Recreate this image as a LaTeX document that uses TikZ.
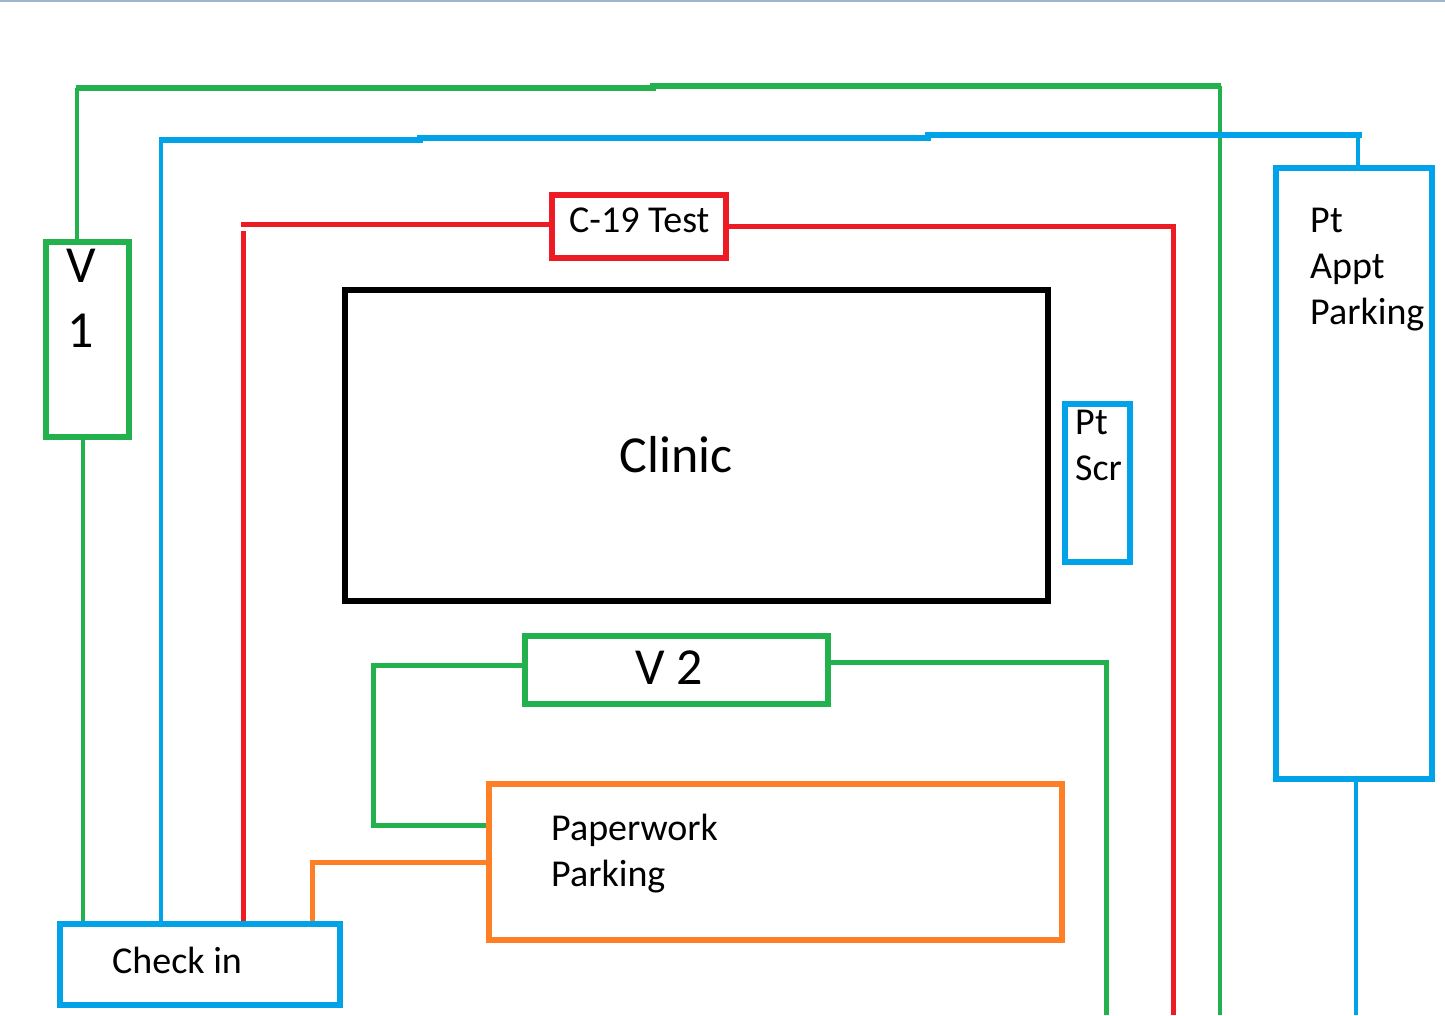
\documentclass[tikz,border=0pt]{standalone}
\usepackage{fontspec}
\setmainfont{Carlito}
\definecolor{pgreen}{RGB}{34,177,76}
\definecolor{pblue}{RGB}{0,162,232}
\definecolor{pred}{RGB}{237,28,36}
\definecolor{porange}{RGB}{255,127,39}
\definecolor{pframe}{RGB}{160,180,205}
\begin{document}
\begin{tikzpicture}[x=1pt,y=-1pt,
  box/.style={draw=#1,line width=6pt,rectangle,inner sep=0pt,minimum width=10pt,minimum height=10pt},
  txt/.style={inner sep=0pt,text=black,font=\fontsize{38}{46}\selectfont,align=left},
  bigtxt/.style={inner sep=0pt,text=black,font=\fontsize{52}{65}\selectfont,align=center},
  conn/.style={draw=#1,line width=4.5pt},
  wideconn/.style={draw=#1,line width=6pt}]
\useasboundingbox (0,0) rectangle (1445,1015);
\fill[white] (0,0) rectangle (1445,1015);
\draw[pframe,line width=2pt] (0,1) -- (1445,1);

% boxes
\node[box=pgreen,minimum width=83,minimum height=195] (v1) at (87.5,339.5) {};
\node[box=pblue,minimum width=280,minimum height=81] (ci) at (200,964.5) {};
\node[box=pred,minimum width=174,minimum height=63] (c19) at (639,226.5) {};
\node[box=black,minimum width=703,minimum height=311] (cl) at (696.5,445.5) {};
\node[box=pblue,minimum width=65,minimum height=158] (ps) at (1097.5,483) {};
\node[box=pgreen,minimum width=303,minimum height=68] (v2) at (676.5,670) {};
\node[box=porange,minimum width=573,minimum height=156] (pp) at (775.5,862) {};
\node[box=pblue,minimum width=156,minimum height=611] (pa) at (1354,473.5) {};

% texts (multi-line nodes: base = baseline of last line)
\node[bigtxt,anchor=base] (v1t) at (81,347) {V\\1};
\node[txt,anchor=base west] (cit) at (112,973) {Check in};
\node[txt,anchor=base west] (c19t) at (569,232) {C-19 Test};
\node[bigtxt,anchor=base] (clt) at (676,472) {Clinic};
\node[txt,anchor=base west] (pst) at (1075,480) {Pt\\Scr};
\node[bigtxt,anchor=base] (v2t) at (669,684) {V 2};
\node[txt,anchor=base west] (ppt) at (551,886) {Paperwork\\Parking};
\node[txt,anchor=base west] (pat) at (1310,324) {Pt\\Appt\\Parking};

% helper coordinates
\coordinate (gx1) at (77,0);
\coordinate (gx2) at (83,0);
\coordinate (bx1) at (161,0);
\coordinate (rx1) at (243,0);
\coordinate (ox1) at (312,0);
\coordinate (gEnd) at (1220,1015);
\coordinate (rEnd) at (1173,1015);
\coordinate (g2End) at (1106,1015);
\coordinate (bEnd) at (1356,1015);

% green outer loop from V1
\draw[conn=pgreen,line width=3.5pt] (v1.north -| gx1) -- (77,88);
\draw[wideconn=pgreen] (75.5,88) -- (653,88) -- (653,86) -- (1221,86);
\draw[conn=pgreen,line width=3.5pt] (1220,86) -- (gEnd);
\draw[conn=pgreen,line width=4pt] (v1.south -| gx2) -- (ci.north -| gx2);
% blue loop from Check in to Pt Appt Parking
\draw[conn=pblue] (ci.north -| bx1) -- (161,140);
\draw[wideconn=pblue] (159,140) -- (420,140) -- (420,138) -- (928,138) -- (928,135) -- (1362,135);
\draw[conn=pblue] (1358,135) -- ([xshift=4pt]pa.north);
\draw[conn=pblue] (pa.south -| bEnd) -- (bEnd);
% red loop through C-19 Test
\draw[conn=pred,line width=5pt] (ci.north -| rx1) -- (243,231);
\draw[conn=pred,line width=5pt] (241,224) -- (c19.west |- 241,224);
\draw[conn=pred,line width=5pt] (c19.east) -| (rEnd);
% green V2
\draw[conn=pgreen,line width=5pt] (v2.west |- 373,665) -- (373,665) -- (373,825) -- (pp.west |- 373,825);
\draw[conn=pgreen,line width=5pt] (v2.east |- 1106,662) -- (1106,662) -- (g2End);
% orange
\draw[conn=porange,line width=5pt] (pp.west) -| (ci.north -| ox1);
\end{tikzpicture}
\end{document}
